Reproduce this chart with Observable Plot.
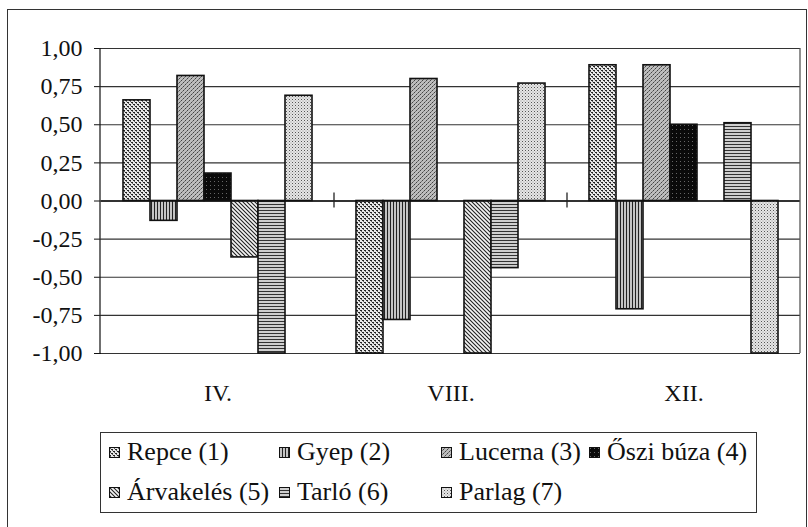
<!DOCTYPE html>
<html><head><meta charset="utf-8">
<script src="https://cdn.jsdelivr.net/npm/d3@7"></script>
<script src="https://cdn.jsdelivr.net/npm/@observablehq/plot@0.6"></script>
<style>
body{margin:0;background:#fff;font-family:"Liberation Serif","DejaVu Serif",serif;color:#111;}
#wrap{position:relative;width:808px;height:527px;overflow:hidden;background:#fff;}
#outer{position:absolute;left:7px;top:9px;width:798px;height:540px;border:1px solid #333;}
#chart{position:absolute;left:0;top:0;}
#legend{position:absolute;left:100px;top:432px;width:657px;height:81px;border:1px solid #333;box-sizing:border-box;font-size:26px;font-family:"Liberation Serif","DejaVu Serif",serif;}
.item{position:absolute;display:flex;align-items:center;white-space:nowrap;height:28px;}
.sw{width:11px;height:11px;margin-right:7px;display:block;}
svg text{font-family:"Liberation Serif","DejaVu Serif",serif;}
</style></head><body>
<svg width="0" height="0" style="position:absolute">
<defs>
<pattern id="p1" width="4" height="4" patternUnits="userSpaceOnUse">
<rect width="4" height="4" fill="#e8e8e8"/>
<rect x="0" y="0" width="2" height="1" fill="#222"/><rect x="2" y="2" width="2" height="1" fill="#222"/>
<rect x="1" y="1" width="1" height="1" fill="#666"/><rect x="3" y="3" width="1" height="1" fill="#666"/>
</pattern>
<pattern id="p2" width="3" height="3" patternUnits="userSpaceOnUse">
<rect width="3" height="3" fill="#c4c4c4"/><rect x="0" y="0" width="1" height="3" fill="#222"/>
</pattern>
<pattern id="p3" width="4" height="4" patternUnits="userSpaceOnUse">
<rect width="4" height="4" fill="#bdbdbd"/>
<rect x="0" y="0" width="1" height="1" fill="#444"/><rect x="2" y="2" width="1" height="1" fill="#444"/>
<rect x="1" y="3" width="1" height="1" fill="#777"/><rect x="3" y="1" width="1" height="1" fill="#777"/>
</pattern>
<pattern id="p4" width="4" height="4" patternUnits="userSpaceOnUse">
<rect width="4" height="4" fill="#0a0a0a"/><rect x="1" y="1" width="1" height="1" fill="#666"/>
</pattern>
<pattern id="p5" width="4" height="4" patternUnits="userSpaceOnUse">
<rect width="4" height="4" fill="#f4f4f4"/>
<path d="M-1,-1 L5,5 M-1,3 L1,5 M3,-1 L5,1" stroke="#222" stroke-width="1.1"/>
</pattern>
<pattern id="p6" width="3" height="3" patternUnits="userSpaceOnUse">
<rect width="3" height="3" fill="#cfcfcf"/><rect x="0" y="0" width="3" height="1" fill="#333"/>
</pattern>
<pattern id="p7" width="3" height="3" patternUnits="userSpaceOnUse">
<rect width="3" height="3" fill="#e6e6e6"/><rect x="0" y="0" width="1" height="1" fill="#555"/><rect x="1.5" y="1.5" width="1" height="1" fill="#999"/>
</pattern>
</defs>
</svg>
<div id="wrap"><div id="outer"></div><div id="chart"></div><div id="legend"></div></div>
<script>
const categories = ["IV.", "VIII.", "XII."];
const series = ["Repce (1)", "Gyep (2)", "Lucerna (3)", "Őszi búza (4)", "Árvakelés (5)", "Tarló (6)", "Parlag (7)"];
const valuesIV = [0.66, -0.13, 0.82, 0.18, -0.37, -1.00, 0.69];
const valuesVIII = [-1.00, -0.78, 0.80, null, -1.00, -0.44, 0.77];
const valuesXII = [0.89, -0.71, 0.89, 0.50, null, 0.51, -1.00];
const yTicks = [-1, -0.75, -0.5, -0.25, 0, 0.25, 0.5, 0.75, 1];
const patternIds = ["p1", "p2", "p3", "p4", "p5", "p6", "p7"];

const byCategory = [valuesIV, valuesVIII, valuesXII];
const data = [];
categories.forEach((c, ci) => {
  series.forEach((s, si) => {
    const v = byCategory[ci][si];
    if (v !== null) data.push({category: c, series: s, value: v});
  });
});

const fmt = v => v.toFixed(2).replace(".", ",");

const plot = Plot.plot({
  width: 808, height: 527,
  marginLeft: 100, marginRight: 8, marginTop: 48, marginBottom: 174,
  style: {fontFamily: "Liberation Serif, DejaVu Serif, serif", fontSize: "24px", color: "#111", background: "transparent", overflow: "visible"},
  fx: {domain: categories, padding: 0, label: null, tickSize: 0, tickPadding: 30},
  x: {domain: series, paddingInner: 0, paddingOuter: 0.72, axis: null},
  y: {domain: [-1, 1], ticks: yTicks, tickFormat: fmt, label: null, tickSize: 7, tickPadding: 12},
  color: {domain: series, range: patternIds.map(id => `url(#${id})`)},
  marks: [
    Plot.gridY(yTicks, {stroke: "#333", strokeOpacity: 1, strokeWidth: 1.2}),
    Plot.barY(data, {fx: "category", x: "series", y: "value", fill: "series", stroke: "#111", strokeWidth: 1.6}),
    Plot.ruleY([0], {stroke: "#111", strokeWidth: 1.3})
  ]
});

const svg = d3.select(plot);
const ys = plot.scale("y");
const fxs = plot.scale("fx");
const yTop = Math.min(...ys.range), yBot = Math.max(...ys.range);
const xl = Math.min(...fxs.range), xr = Math.max(...fxs.range);
const y0 = ys.apply(0);
const g = svg.append("g").attr("stroke", "#222").attr("stroke-width", 1.3);
g.append("line").attr("x1", xl).attr("x2", xl).attr("y1", yTop).attr("y2", yBot);
g.append("line").attr("x1", xr).attr("x2", xr).attr("y1", yTop).attr("y2", yBot).attr("stroke", "#555");
categories.slice(1).forEach(c => {
  const x = fxs.apply(c);
  g.append("line").attr("x1", x).attr("x2", x).attr("y1", y0 - 8).attr("y2", y0 + 7);
});
document.getElementById("chart").appendChild(plot);

const legendPos = [[8, 5], [178, 5], [340, 5], [488, 5], [8, 45], [178, 45], [340, 45]];
const legend = document.getElementById("legend");
series.forEach((s, i) => {
  const it = document.createElement("div");
  it.className = "item";
  it.style.left = legendPos[i][0] + "px";
  it.style.top = legendPos[i][1] + "px";
  it.innerHTML = `<svg class="sw" width="11" height="11"><rect x="0.5" y="0.5" width="10" height="10" fill="url(#${patternIds[i]})" stroke="#111"/></svg><span>${s}</span>`;
  legend.appendChild(it);
});
</script>
</body></html>
